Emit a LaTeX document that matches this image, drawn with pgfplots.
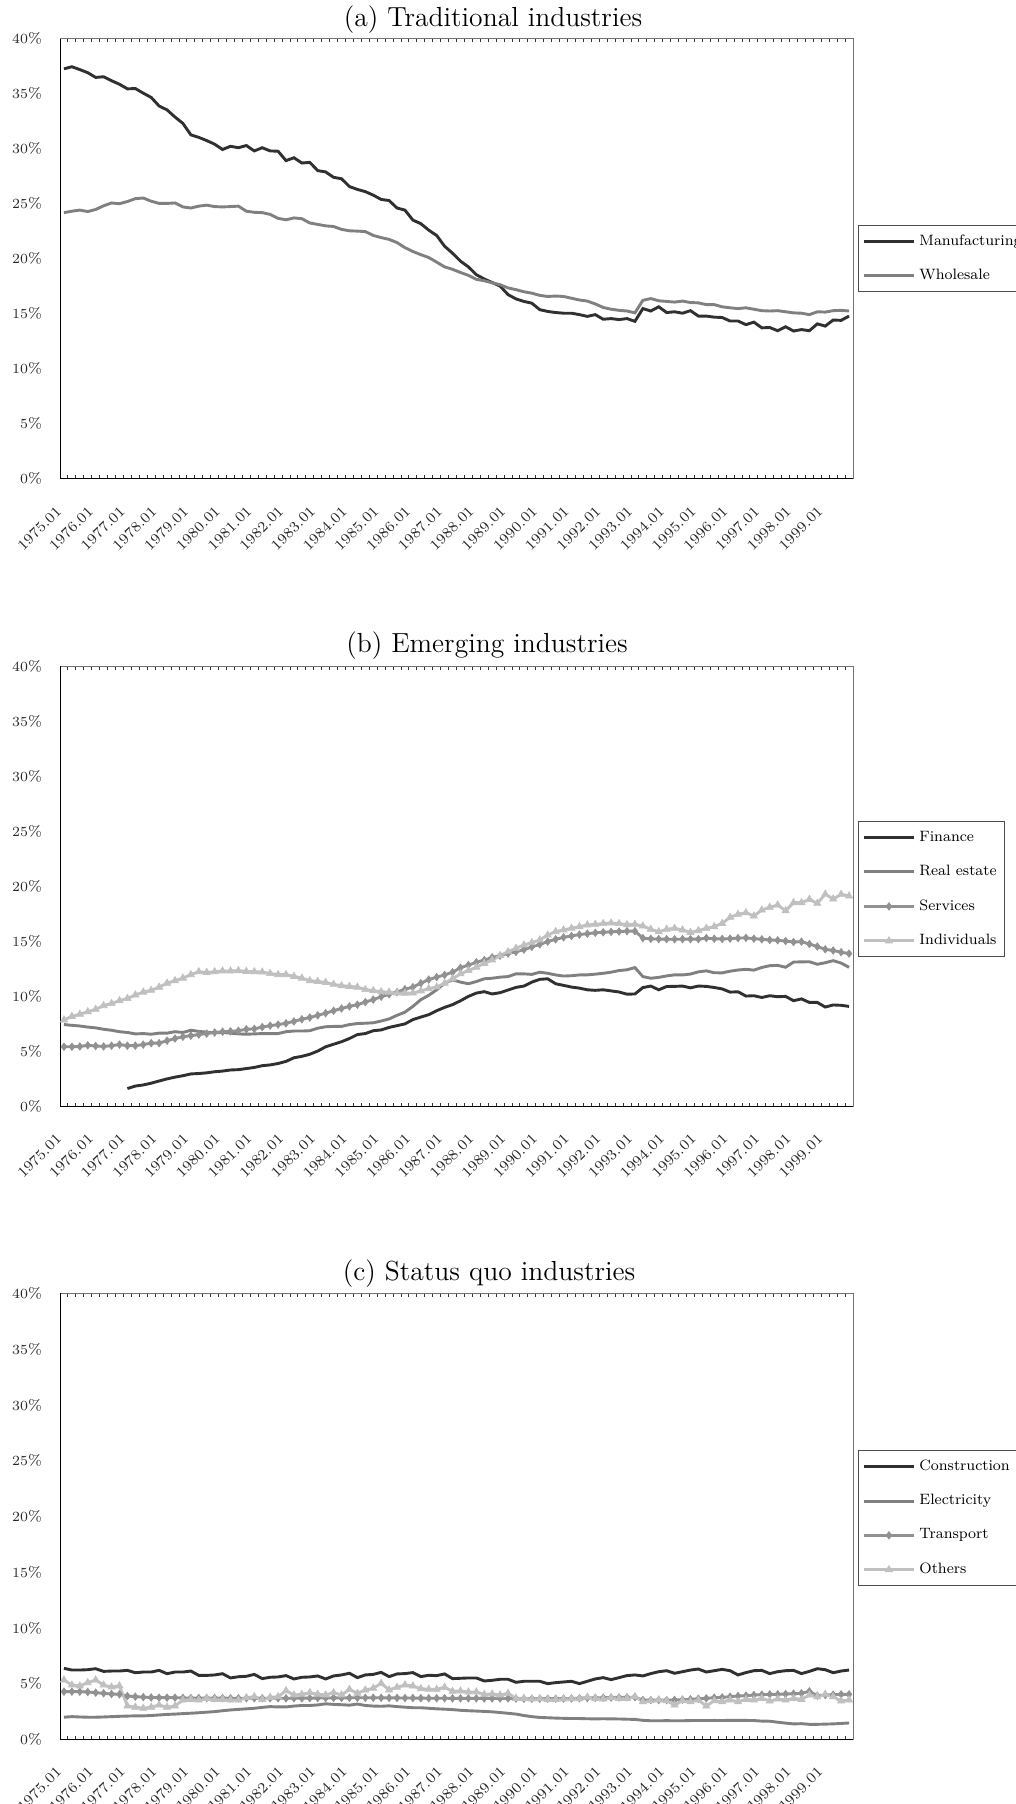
\documentclass[border=0pt]{standalone}
\usepackage{pgfplots}
\pgfplotsset{compat=1.18}
\usepackage{pgfplotstable}

\definecolor{dark}{RGB}{48,48,48}
\definecolor{mid}{RGB}{128,128,128}
\definecolor{marked}{RGB}{145,145,145}
\definecolor{light}{RGB}{192,192,192}

% Quarterly shares (%), index 0 = 1975.01 ... 99 = 1999.10
\pgfplotstableread{
i manu whole
0 37.25 24.18
1 37.44 24.31
2 37.18 24.41
3 36.90 24.28
4 36.47 24.47
5 36.53 24.80
6 36.17 25.06
7 35.85 24.99
8 35.43 25.19
9 35.46 25.45
10 35.04 25.51
11 34.65 25.22
12 33.87 25.02
13 33.52 25.02
14 32.87 25.06
15 32.29 24.70
16 31.25 24.60
17 31.02 24.77
18 30.73 24.86
19 30.40 24.73
20 29.92 24.70
21 30.21 24.73
22 30.08 24.77
23 30.28 24.31
24 29.79 24.21
25 30.08 24.18
26 29.79 24.02
27 29.76 23.66
28 28.91 23.53
29 29.17 23.70
30 28.69 23.63
31 28.75 23.24
32 28.00 23.11
33 27.88 22.98
34 27.39 22.92
35 27.26 22.66
36 26.55 22.53
37 26.29 22.50
38 26.09 22.46
39 25.77 22.11
40 25.38 21.91
41 25.28 21.75
42 24.60 21.46
43 24.41 21.00
44 23.50 20.65
45 23.18 20.36
46 22.59 20.10
47 22.10 19.68
48 21.13 19.25
49 20.49 19.03
50 19.77 18.74
51 19.25 18.48
52 18.54 18.12
53 18.15 17.99
54 17.83 17.80
55 17.50 17.63
56 16.73 17.34
57 16.34 17.18
58 16.11 16.99
59 15.95 16.86
60 15.36 16.66
61 15.20 16.56
62 15.10 16.60
63 15.04 16.56
64 15.04 16.40
65 14.91 16.24
66 14.75 16.14
67 14.91 15.88
68 14.49 15.56
69 14.55 15.40
70 14.46 15.30
71 14.55 15.24
72 14.30 15.07
73 15.46 16.21
74 15.24 16.37
75 15.62 16.17
76 15.10 16.11
77 15.17 16.05
78 15.04 16.14
79 15.27 16.01
80 14.78 15.98
81 14.78 15.82
82 14.68 15.82
83 14.65 15.62
84 14.33 15.53
85 14.33 15.46
86 14.00 15.53
87 14.23 15.40
88 13.71 15.27
89 13.74 15.24
90 13.45 15.27
91 13.81 15.17
92 13.42 15.07
93 13.55 15.04
94 13.45 14.91
95 14.07 15.17
96 13.87 15.14
97 14.42 15.27
98 14.39 15.30
99 14.78 15.24
}\traditional

\pgfplotstableread{
i fin re serv ind
0 nan 7.44 5.42 7.86
1 nan 7.37 5.42 8.18
2 nan 7.31 5.45 8.38
3 nan 7.21 5.55 8.60
4 nan 7.14 5.49 8.83
5 nan 7.01 5.45 9.16
6 nan 6.92 5.52 9.35
7 nan 6.79 5.62 9.61
8 1.62 6.72 5.52 9.81
9 1.85 6.59 5.52 10.13
10 1.95 6.62 5.62 10.39
11 2.11 6.56 5.75 10.55
12 2.31 6.66 5.75 10.84
13 2.50 6.66 5.97 11.20
14 2.66 6.79 6.17 11.43
15 2.79 6.72 6.33 11.66
16 2.95 6.92 6.43 11.98
17 2.99 6.82 6.53 12.24
18 3.05 6.75 6.62 12.18
19 3.15 6.69 6.72 12.24
20 3.21 6.72 6.79 12.31
21 3.31 6.66 6.82 12.31
22 3.34 6.59 6.88 12.34
23 3.44 6.56 7.01 12.27
24 3.54 6.59 7.05 12.24
25 3.70 6.62 7.21 12.21
26 3.77 6.62 7.34 12.08
27 3.90 6.62 7.44 11.98
28 4.09 6.79 7.56 11.98
29 4.42 6.85 7.73 11.82
30 4.55 6.85 7.92 11.66
31 4.74 6.88 8.08 11.43
32 5.03 7.11 8.28 11.36
33 5.42 7.24 8.47 11.27
34 5.65 7.27 8.70 11.10
35 5.88 7.27 8.90 10.97
36 6.17 7.44 9.09 10.91
37 6.53 7.53 9.25 10.84
38 6.62 7.56 9.48 10.62
39 6.88 7.60 9.71 10.52
40 6.95 7.76 9.97 10.42
41 7.18 7.95 10.19 10.39
42 7.34 8.28 10.39 10.32
43 7.50 8.57 10.65 10.29
44 7.89 9.09 10.84 10.30
45 8.12 9.70 11.20 10.50
46 8.34 10.10 11.53 10.70
47 8.70 10.60 11.75 10.85
48 9.00 11.20 11.95 11.20
49 9.25 11.50 12.20 11.60
50 9.60 11.30 12.60 12.05
51 10.00 11.15 12.85 12.35
52 10.30 11.35 13.10 12.65
53 10.43 11.60 13.30 13.00
54 10.22 11.65 13.55 13.30
55 10.34 11.75 13.70 13.70
56 10.58 11.80 13.90 14.07
57 10.82 12.05 14.05 14.37
58 10.94 12.05 14.25 14.67
59 11.30 12.00 14.50 14.89
60 11.55 12.20 14.73 15.13
61 11.60 12.10 14.98 15.58
62 11.15 11.95 15.19 15.89
63 11.00 11.85 15.37 16.04
64 10.85 11.88 15.50 16.19
65 10.75 11.95 15.62 16.34
66 10.60 11.96 15.70 16.49
67 10.55 12.02 15.78 16.55
68 10.60 12.10 15.83 16.62
69 10.50 12.20 15.87 16.67
70 10.40 12.35 15.90 16.62
71 10.20 12.42 15.93 16.52
72 10.22 12.62 15.93 16.55
73 10.80 11.80 15.30 16.40
74 10.94 11.65 15.23 16.10
75 10.60 11.73 15.21 15.88
76 10.90 11.86 15.20 16.10
77 10.91 11.96 15.19 16.19
78 10.94 11.95 15.20 16.04
79 10.78 12.03 15.20 15.82
80 10.94 12.23 15.20 15.98
81 10.91 12.32 15.30 16.19
82 10.81 12.15 15.24 16.34
83 10.68 12.14 15.22 16.64
84 10.39 12.29 15.25 17.19
85 10.42 12.40 15.30 17.46
86 10.03 12.46 15.32 17.61
87 10.06 12.39 15.25 17.31
88 9.90 12.63 15.19 17.85
89 10.06 12.79 15.13 18.10
90 9.97 12.82 15.10 18.31
91 10.00 12.65 15.03 17.79
92 9.61 13.12 14.94 18.52
93 9.77 13.14 14.98 18.52
94 9.45 13.15 14.76 18.82
95 9.45 12.92 14.53 18.46
96 9.03 13.06 14.28 19.30
97 9.22 13.25 14.17 18.85
98 9.19 13.03 14.02 19.28
99 9.09 12.64 13.89 19.13
}\emerging

\pgfplotstableread{
i cons elec trans oth
0 6.38 2.00 4.29 5.34
1 6.23 2.05 4.29 4.88
2 6.23 2.02 4.29 4.80
3 6.26 2.00 4.26 5.10
4 6.35 2.00 4.20 5.34
5 6.11 2.02 4.14 4.88
6 6.14 2.05 4.08 4.70
7 6.14 2.08 4.05 4.80
8 6.20 2.10 3.90 3.00
9 5.99 2.12 3.84 2.90
10 6.05 2.12 3.80 2.80
11 6.05 2.15 3.77 2.90
12 6.20 2.20 3.75 3.09
13 5.90 2.25 3.75 2.90
14 6.05 2.28 3.75 3.00
15 6.05 2.32 3.73 3.54
16 6.14 2.36 3.72 3.60
17 5.75 2.40 3.72 3.54
18 5.75 2.45 3.72 3.69
19 5.79 2.50 3.72 3.60
20 5.90 2.58 3.71 3.60
21 5.52 2.65 3.70 3.54
22 5.63 2.70 3.70 3.54
23 5.67 2.75 3.70 3.75
24 5.84 2.80 3.70 3.84
25 5.46 2.88 3.70 3.60
26 5.58 2.95 3.70 3.78
27 5.61 2.92 3.70 3.84
28 5.73 2.92 3.70 4.38
29 5.43 3.00 3.70 3.99
30 5.58 3.05 3.70 4.05
31 5.61 3.05 3.71 4.20
32 5.70 3.10 3.72 4.05
33 5.43 3.20 3.72 4.00
34 5.70 3.15 3.73 4.20
35 5.79 3.12 3.73 3.99
36 5.94 3.08 3.74 4.50
37 5.55 3.18 3.74 4.14
38 5.79 3.05 3.74 4.44
39 5.84 3.00 3.74 4.59
40 6.02 2.98 3.74 5.04
41 5.64 3.02 3.73 4.44
42 5.88 2.95 3.73 4.68
43 5.91 2.90 3.72 4.89
44 6.00 2.85 3.72 4.80
45 5.64 2.85 3.71 4.56
46 5.76 2.80 3.70 4.50
47 5.73 2.75 3.70 4.50
48 5.88 2.72 3.70 4.68
49 5.46 2.68 3.69 4.32
50 5.49 2.62 3.69 4.35
51 5.52 2.58 3.69 4.26
52 5.52 2.55 3.69 4.26
53 5.25 2.52 3.68 4.05
54 5.31 2.48 3.68 4.08
55 5.40 2.42 3.68 3.99
56 5.40 2.35 3.68 4.14
57 5.13 2.28 3.67 3.69
58 5.22 2.15 3.66 3.69
59 5.22 2.05 3.66 3.63
60 5.22 1.98 3.66 3.66
61 5.01 1.95 3.66 3.60
62 5.10 1.92 3.66 3.60
63 5.16 1.90 3.67 3.63
64 5.22 1.88 3.68 3.66
65 5.01 1.88 3.70 3.66
66 5.22 1.86 3.72 3.80
67 5.43 1.85 3.74 3.69
68 5.55 1.86 3.75 3.63
69 5.37 1.85 3.76 3.75
70 5.55 1.84 3.77 3.69
71 5.73 1.82 3.78 3.69
72 5.79 1.80 3.80 3.84
73 5.70 1.72 3.54 3.39
74 5.91 1.68 3.54 3.48
75 6.08 1.68 3.54 3.54
76 6.17 1.69 3.54 3.48
77 5.94 1.68 3.55 3.09
78 6.08 1.68 3.57 3.48
79 6.23 1.70 3.60 3.39
80 6.32 1.70 3.66 3.54
81 6.05 1.70 3.69 3.00
82 6.17 1.71 3.75 3.48
83 6.29 1.70 3.78 3.39
84 6.17 1.72 3.84 3.54
85 5.79 1.72 3.90 3.39
86 6.00 1.71 3.93 3.60
87 6.17 1.70 3.99 3.54
88 6.20 1.65 4.02 3.69
89 5.91 1.64 4.05 3.45
90 6.08 1.55 4.05 3.63
91 6.17 1.47 4.08 3.54
92 6.20 1.40 4.11 3.69
93 5.91 1.42 4.14 3.60
94 6.11 1.36 4.32 3.99
95 6.35 1.36 3.93 3.84
96 6.26 1.38 3.99 4.05
97 5.99 1.40 4.02 3.84
98 6.14 1.44 4.05 3.45
99 6.23 1.48 4.05 3.54
}\statusquo

\pgfplotsset{
  panel/.style={
    scale only axis, width=396.5pt,
    xmin=-0.5, xmax=99.5, ymin=0, ymax=40,
    axis line style={draw=black!55, line width=0.5pt},
    xtick={0,4,...,96},
    xticklabels={1975.01,1976.01,1977.01,1978.01,1979.01,1980.01,1981.01,1982.01,1983.01,1984.01,1985.01,1986.01,1987.01,1988.01,1989.01,1990.01,1991.01,1992.01,1993.01,1994.01,1995.01,1996.01,1997.01,1998.01,1999.01},
    minor xtick={0.5,1.5,...,98.5},
    ytick={0,5,...,40},
    yticklabel={\pgfmathprintnumber{\tick}\%},
    major tick length=0pt,
    minor tick length=1.75pt,
    tick align=inside,
    every minor tick/.append style={black!80, line width=0.45pt},
    tick label style={font=\fontsize{7.4}{8.4}\selectfont, text=black!85},
    xticklabel style={rotate=45, anchor=east},
    xticklabel shift=12.5pt,
    yticklabel style={anchor=east, xshift=-5.5pt},
    legend cell align=left,
    legend image code/.code={\draw[mark repeat=2,mark phase=2,##1] plot coordinates {(0pt,0pt) (12.5pt,0pt) (25pt,0pt)};},
    legend style={anchor=north west, draw=black!70, line width=0.5pt, fill=white,
      font=\fontsize{7.5}{9}\selectfont, inner xsep=2pt, inner ysep=2.5pt, row sep=6.5pt},
    every axis plot/.append style={line width=1.45pt},
  },
  darkline/.style={color=dark, mark=none},
  midline/.style={color=mid, mark=none},
  diamline/.style={color=marked, mark=diamond*, mark size=1.9pt, mark options={solid, line width=0.3pt}},
  triline/.style={color=light, mark=triangle*, mark size=2.1pt, mark options={solid, line width=0.3pt}},
}

\begin{document}
\begin{tikzpicture}
\useasboundingbox (0,0) rectangle (508pt,902pt);
\clip (0,0) rectangle (508pt,902pt);

\node[font=\fontsize{13.8}{16}\selectfont] at (246.5pt,892.2pt) {(a) Traditional industries};
\node[font=\fontsize{13.8}{16}\selectfont] at (243.5pt,579pt) {(b) Emerging industries};
\node[font=\fontsize{13.8}{16}\selectfont] at (244.5pt,265.25pt) {(c) Status quo industries};

% (a) traditional industries
\begin{axis}[panel, height=220.05pt, at={(30pt,662.65pt)}, anchor=south west,
  legend style={at={(1.0063,0.5765)}}]
  \addplot[darkline] table[x=i, y=manu] {\traditional};
  \addlegendentry{Manufacturing}
  \addplot[midline] table[x=i, y=whole] {\traditional};
  \addlegendentry{Wholesale}
  \draw[black, line width=0.6pt] (rel axis cs:0,1) -- (rel axis cs:0,0) -- (rel axis cs:1,0);
\end{axis}

% (b) emerging industries
\begin{axis}[panel, height=220pt, at={(30pt,348.8pt)}, anchor=south west,
  legend style={at={(1.0063,0.6475)}}, unbounded coords=jump]
  \addplot[darkline] table[x=i, y=fin] {\emerging};
  \addlegendentry{Finance}
  \addplot[midline] table[x=i, y=re] {\emerging};
  \addlegendentry{Real estate}
  \addplot[diamline] table[x=i, y=serv] {\emerging};
  \addlegendentry{Services}
  \addplot[triline] table[x=i, y=ind] {\emerging};
  \addlegendentry{Individuals}
  \draw[black, line width=0.6pt] (rel axis cs:0,1) -- (rel axis cs:0,0) -- (rel axis cs:1,0);
\end{axis}

% (c) status quo industries
\begin{axis}[panel, height=223pt, at={(30pt,32.25pt)}, anchor=south west,
  legend style={at={(1.0063,0.6484)}}]
  \addplot[darkline] table[x=i, y=cons] {\statusquo};
  \addlegendentry{Construction}
  \addplot[midline] table[x=i, y=elec] {\statusquo};
  \addlegendentry{Electricity}
  \addplot[diamline] table[x=i, y=trans] {\statusquo};
  \addlegendentry{Transport}
  \addplot[triline] table[x=i, y=oth] {\statusquo};
  \addlegendentry{Others}
  \draw[black, line width=0.6pt] (rel axis cs:0,1) -- (rel axis cs:0,0) -- (rel axis cs:1,0);
\end{axis}
\end{tikzpicture}
\end{document}
